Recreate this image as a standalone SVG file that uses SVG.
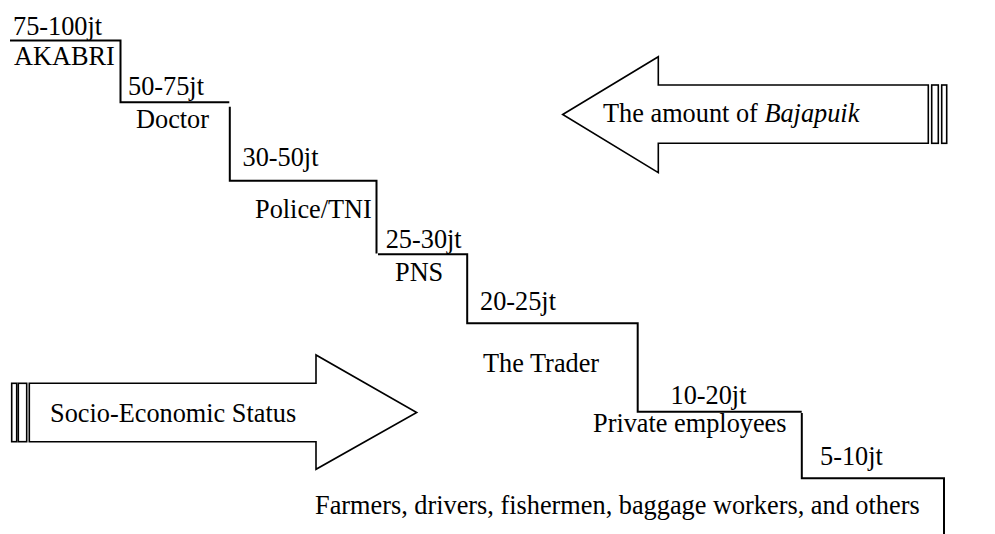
<svg xmlns="http://www.w3.org/2000/svg" width="995" height="534" viewBox="0 0 995 534">
<style>
text{font-family:"Liberation Serif","Times New Roman",serif;font-size:26.3px;fill:#000}
.st{stroke:#000;stroke-width:2;fill:none}
.ar{stroke:#000;stroke-width:1.6;fill:#fff;stroke-linejoin:miter}
</style>
<rect width="995" height="534" fill="#fff"/>
<g id="connectors">
<path class="st" d="M10,40.5 H120.5 V102.3 H229.3"/>
<path class="st" d="M229.8,106.8 V180.8 H376.5 V253.5"/>
<path class="st" d="M378,254.3 H467.2 V323.3 H637.7 V411.7 H801.7"/>
<path class="st" d="M801.8,413 V478.3 H944 V534"/>
</g>
<g id="arrow-bajapuik">
<path class="ar" d="M562.7,114.5 L658.3,56.7 L658.3,85 L928.3,85 L928.3,143.3 L658.3,143.3 L658.3,172.7 Z"/>
<rect class="ar" x="931.7" y="85" width="6.6" height="58.3"/>
<rect class="ar" x="941.7" y="85" width="5" height="58.3"/>
<text x="603" y="121.5">The amount of <tspan font-style="italic">Bajapuik</tspan></text>
</g>
<g id="arrow-status">
<path class="ar" d="M29.3,383.3 L316,383.3 L316,355 L416.7,412.5 L316,469.3 L316,441.7 L29.3,441.7 Z"/>
<rect class="ar" x="11.7" y="383.3" width="5" height="58.4"/>
<rect class="ar" x="18.3" y="383.3" width="8.4" height="58.4"/>
<text x="50" y="421.5">Socio-Economic Status</text>
</g>
<g id="step-akabri"><text x="13" y="35">75-100jt</text><text x="14" y="65">AKABRI</text></g>
<g id="step-doctor"><text x="128" y="95">50-75jt</text><text x="136" y="128">Doctor</text></g>
<g id="step-police"><text x="242.5" y="166">30-50jt</text><text x="255" y="218">Police/TNI</text></g>
<g id="step-pns"><text x="385.7" y="248">25-30jt</text><text x="395" y="281">PNS</text></g>
<g id="step-trader"><text x="480" y="310">20-25jt</text><text x="483" y="372">The Trader</text></g>
<g id="step-private"><text x="670.5" y="403.5">10-20jt</text><text x="593" y="432">Private employees</text></g>
<g id="step-others"><text x="820" y="465">5-10jt</text><text x="315" y="514">Farmers, drivers, fishermen, baggage workers, and others</text></g>
</svg>
